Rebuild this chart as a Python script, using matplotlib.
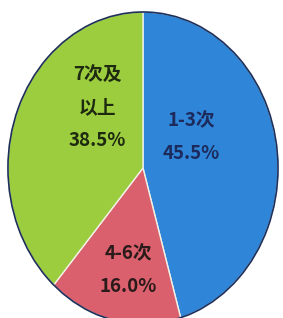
import matplotlib.pyplot as plt

plt.rcParams['font.family'] = ['Noto Sans CJK SC', 'DejaVu Sans']

# 数据
categories = ["1-3次", "4-6次", "7次及\n以上"]
shares = [45.5, 16.0, 38.5]
colors = ["#2f86d8", "#d9606c", "#9ccd3e"]
text_colors = ["#1c2a5c", "#2a1a1a", "#1e2a10"]

# 标签位置（数据坐标，饼半径 = 1）
label_pos = [(0.36, 0.20), (-0.11, -0.655), (-0.34, 0.385)]

fig = plt.figure(figsize=(2.83, 3.18), dpi=100)
ax = fig.add_axes([0, 0, 1, 1])

ax.pie(shares, colors=colors, startangle=90, counterclock=False,
       wedgeprops=dict(edgecolor="#f2f2e8", linewidth=1.0))
# 外轮廓
ax.pie([1], colors=["none"], wedgeprops=dict(edgecolor="#1d2f5a", linewidth=1.2, fill=False))

for cat, val, (x, y), tc in zip(categories, shares, label_pos, text_colors):
    ax.text(x, y, f"{cat}\n{val:.1f}%", ha="center", va="center",
            fontsize=13.5, fontweight="bold", color=tc, linespacing=1.9)

ax.set_aspect("auto")
ax.set_xlim(-1.059, 1.037)
ax.set_ylim(-0.962, 1.077)
ax.axis("off")

fig.savefig("out.png", dpi=100, facecolor="white")
